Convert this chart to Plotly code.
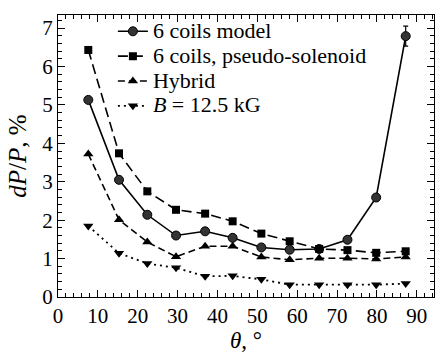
import plotly.graph_objects as go

# data
theta = [7.6, 15.3, 22.4, 29.6, 36.9, 43.8, 51.0, 58.1, 65.5, 72.6, 79.8, 87.2]
six_coils = [5.13, 3.05, 2.14, 1.60, 1.71, 1.54, 1.29, 1.23, 1.25, 1.49, 2.59, 6.79]
six_coils_err = [0, 0, 0, 0, 0, 0, 0, 0, 0, 0, 0, 0.26]
pseudo_solenoid = [6.43, 3.74, 2.75, 2.27, 2.17, 1.97, 1.65, 1.45, 1.25, 1.22, 1.15, 1.19]
hybrid = [3.72, 2.01, 1.43, 1.05, 1.32, 1.32, 1.04, 0.97, 1.01, 1.01, 0.99, 1.04]
b_12_5 = [1.85, 1.14, 0.87, 0.76, 0.54, 0.55, 0.46, 0.32, 0.32, 0.32, 0.32, 0.35]

names = ["6 coils model", "6 coils, pseudo-solenoid", "Hybrid", "<i>B</i> = 12.5 kG"]

FONT = "Liberation Serif, Times New Roman, serif"
LEG = '<span style="font-size:22px">{}</span>'

fig = go.Figure()
fig.add_trace(go.Scatter(
    x=theta, y=six_coils, name=LEG.format(names[0]), mode="lines+markers",
    line=dict(color="black", width=1.6, dash="solid"),
    marker=dict(symbol="circle", size=9, color="#333333", line=dict(color="black", width=1)),
    error_y=dict(type="data", array=six_coils_err, visible=True, color="black", thickness=1.2, width=2.5),
))
fig.add_trace(go.Scatter(
    x=theta, y=pseudo_solenoid, name=LEG.format(names[1]), mode="lines+markers",
    line=dict(color="black", width=1.6, dash="10px,5px"),
    marker=dict(symbol="square", size=8, color="black"),
))
fig.add_trace(go.Scatter(
    x=theta, y=hybrid, name=LEG.format(names[2]), mode="lines+markers",
    line=dict(color="black", width=1.6, dash="7px,4px"),
    marker=dict(symbol="triangle-up", size=9, color="black"),
))
fig.add_trace(go.Scatter(
    x=theta, y=b_12_5, name=LEG.format(names[3]), mode="lines+markers",
    line=dict(color="black", width=1.8, dash="2px,4px"),
    marker=dict(symbol="triangle-down", size=9, color="black"),
))

fig.update_layout(
    width=437, height=355,
    margin=dict(l=58, r=3, t=15, b=58),
    plot_bgcolor="white", paper_bgcolor="white",
    font=dict(family=FONT, size=21, color="black"),
    showlegend=True,
    legend=dict(x=0.146, y=1.004, xanchor="left", yanchor="top",
                bgcolor="rgba(0,0,0,0)", font=dict(family=FONT, size=16.8), itemwidth=30),
)
fig.update_xaxes(
    range=[0, 94.3], tick0=0, dtick=10, ticks="inside", ticklen=7, tickwidth=1,
    tickcolor="black", showline=True, linecolor="black", linewidth=1.2, mirror="ticks",
    showgrid=False, zeroline=False,
    minor=dict(ticks="inside", dtick=2, ticklen=4, tickwidth=1, tickcolor="black"),
    title=dict(text="<i>θ</i>, °", standoff=2, font=dict(size=23)),
)
fig.update_yaxes(
    range=[0, 7.34], tick0=0, dtick=1, ticks="inside", ticklen=7, tickwidth=1,
    tickcolor="black", showline=True, linecolor="black", linewidth=1.2, mirror="ticks",
    showgrid=False, zeroline=False,
    minor=dict(ticks="inside", dtick=0.2, ticklen=4, tickwidth=1, tickcolor="black"),
    title=dict(text="<i>dP</i>/<i>P</i>, %", standoff=8, font=dict(size=25)),
)

fig.write_html("out.html", config={"displayModeBar": False},
               post_script="document.body.style.margin='0px';")
